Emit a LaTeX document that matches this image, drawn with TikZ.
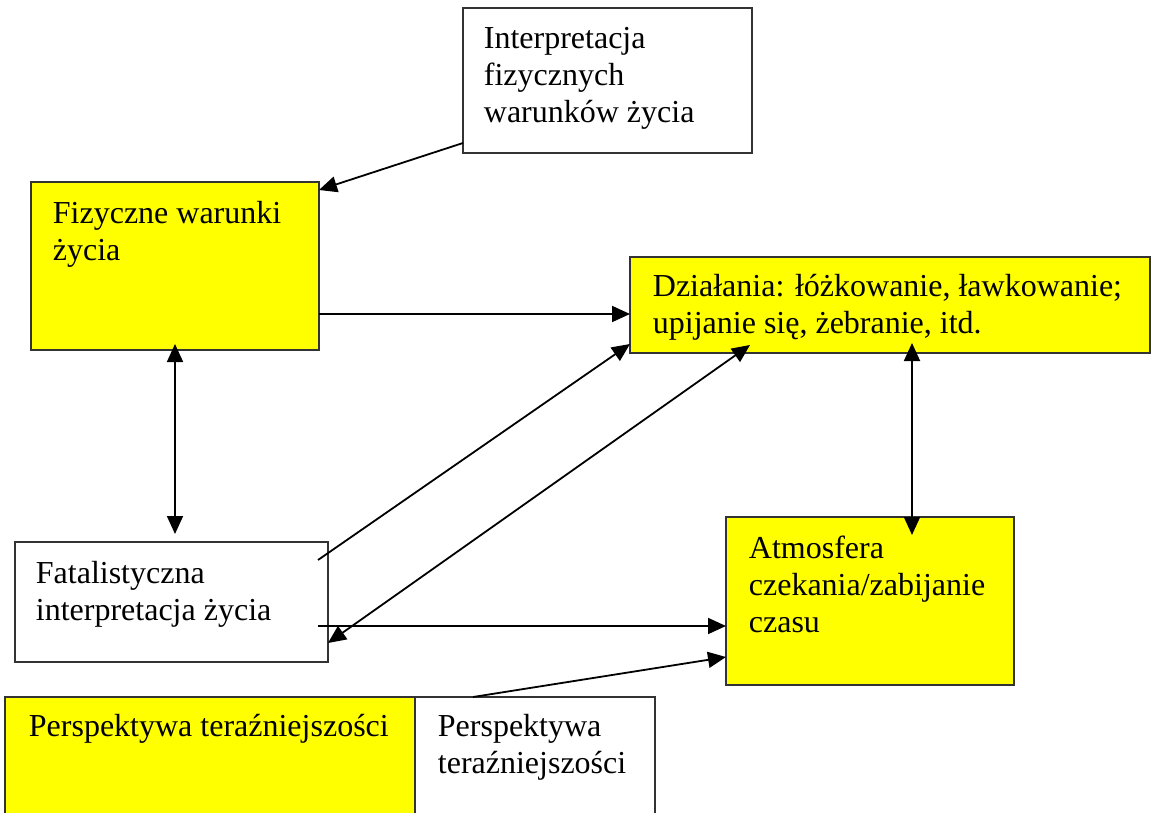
\documentclass[tikz,border=0pt]{standalone}
\usepackage{fontspec}
\setmainfont{Liberation Serif}
\usepackage{tikz}
\usetikzlibrary{calc, positioning, arrows.meta}

\definecolor{boxyellow}{RGB}{255,255,0}

\tikzset{
	box/.style = {draw = black!80, line width = 1.2pt, anchor = north west, inner sep = 0pt, outer sep = 0pt},
	yellowbox/.style = {box, fill = boxyellow},
	whitebox/.style = {box, fill = white},
	boxtext/.style = {inner sep = 0pt, align = left, font = \fontsize{32pt}{37pt}\selectfont},
	tip/.style = {-{Triangle[length = 18pt, width = 16pt]}},
	twotips/.style = {{Triangle[length = 18pt, width = 16pt]}-{Triangle[length = 18pt, width = 16pt]}},
}

\begin{document}
\begin{tikzpicture}[x = 1pt, y = -1pt, line width = 1.8pt]
					\useasboundingbox (0,0) rectangle (1151,813);

					\begin{scope}
						\node [whitebox, minimum width = 289pt, minimum height = 145pt] (interp) at (463,8) {};
						\node [yellowbox, minimum width = 288pt, minimum height = 168pt] (fiz) at (31,182) {};
						\node [yellowbox, minimum width = 520pt, minimum height = 96pt] (dzial) at (630,257) {};
						\node [whitebox, minimum width = 313pt, minimum height = 120pt] (fatal) at (15,542) {};
						\node [yellowbox, minimum width = 288pt, minimum height = 168pt] (atmo) at (726,517) {};
						\node [yellowbox, minimum width = 410pt, minimum height = 125pt] (perspY) at (5,697) {};
						\node [whitebox, minimum width = 240pt, minimum height = 125pt] (perspW) at (415,697) {};
					\end{scope}

					\begin{scope}
						\node [boxtext, below right = 18pt and 20pt of interp.north west] (interpText) {Interpretacja\\fizycznych\\warunków życia};
						\node [boxtext, below right = 18pt and 21pt of fiz.north west] (fizText) {Fizyczne warunki\\życia};
						\node [boxtext, below right = 16pt and 22pt of dzial.north west] (dzialText) {Działania: łóżkowanie, ławkowanie;\\upijanie się, żebranie, itd.};
						\node [boxtext, below right = 18pt and 20pt of fatal.north west] (fatalText) {Fatalistyczna\\interpretacja życia};
						\node [boxtext, below right = 18pt and 22pt of atmo.north west] (atmoText) {Atmosfera\\czekania/zabijanie\\czasu};
						\node [boxtext, below right = 16pt and 23pt of perspY.north west] (perspYText) {Perspektywa teraźniejszości};
						\node [boxtext, below right = 16pt and 22pt of perspW.north west] (perspWText) {Perspektywa\\teraźniejszości};
					\end{scope}

					\begin{scope}[tip]
						\draw ($(interp.south west)+(0,-10)$) -- ($(fiz.north east)+(0,8)$);
						\draw ($(fiz.south east)+(0,-36)$) -- ($(dzial.south west)+(0,-39)$);
						\draw ($(fatal.north east)+(-10,18)$) -- ($(dzial.south west)+(0,-9)$);
						\draw ($(fatal.south east)+(-10,-36)$) -- ($(atmo.south west)+(0,-59)$);
						\draw ($(perspW.north west)+(58,0)$) -- ($(atmo.south west)+(0,-28)$);
					\end{scope}

					\begin{scope}[twotips]
						\draw ($(fiz.south)+(0,-6)$) -- ($(fiz.south |- fatal.north)+(0,-8)$);
						\draw ($(dzial.south west)+(120,-8)$) -- ($(fatal.south east)+(0,-19)$);
						\draw ($(dzial.south west)+(282,-10)$) -- ($(atmo.north west)+(186,18)$);
					\end{scope}
				\end{tikzpicture}
\end{document}
